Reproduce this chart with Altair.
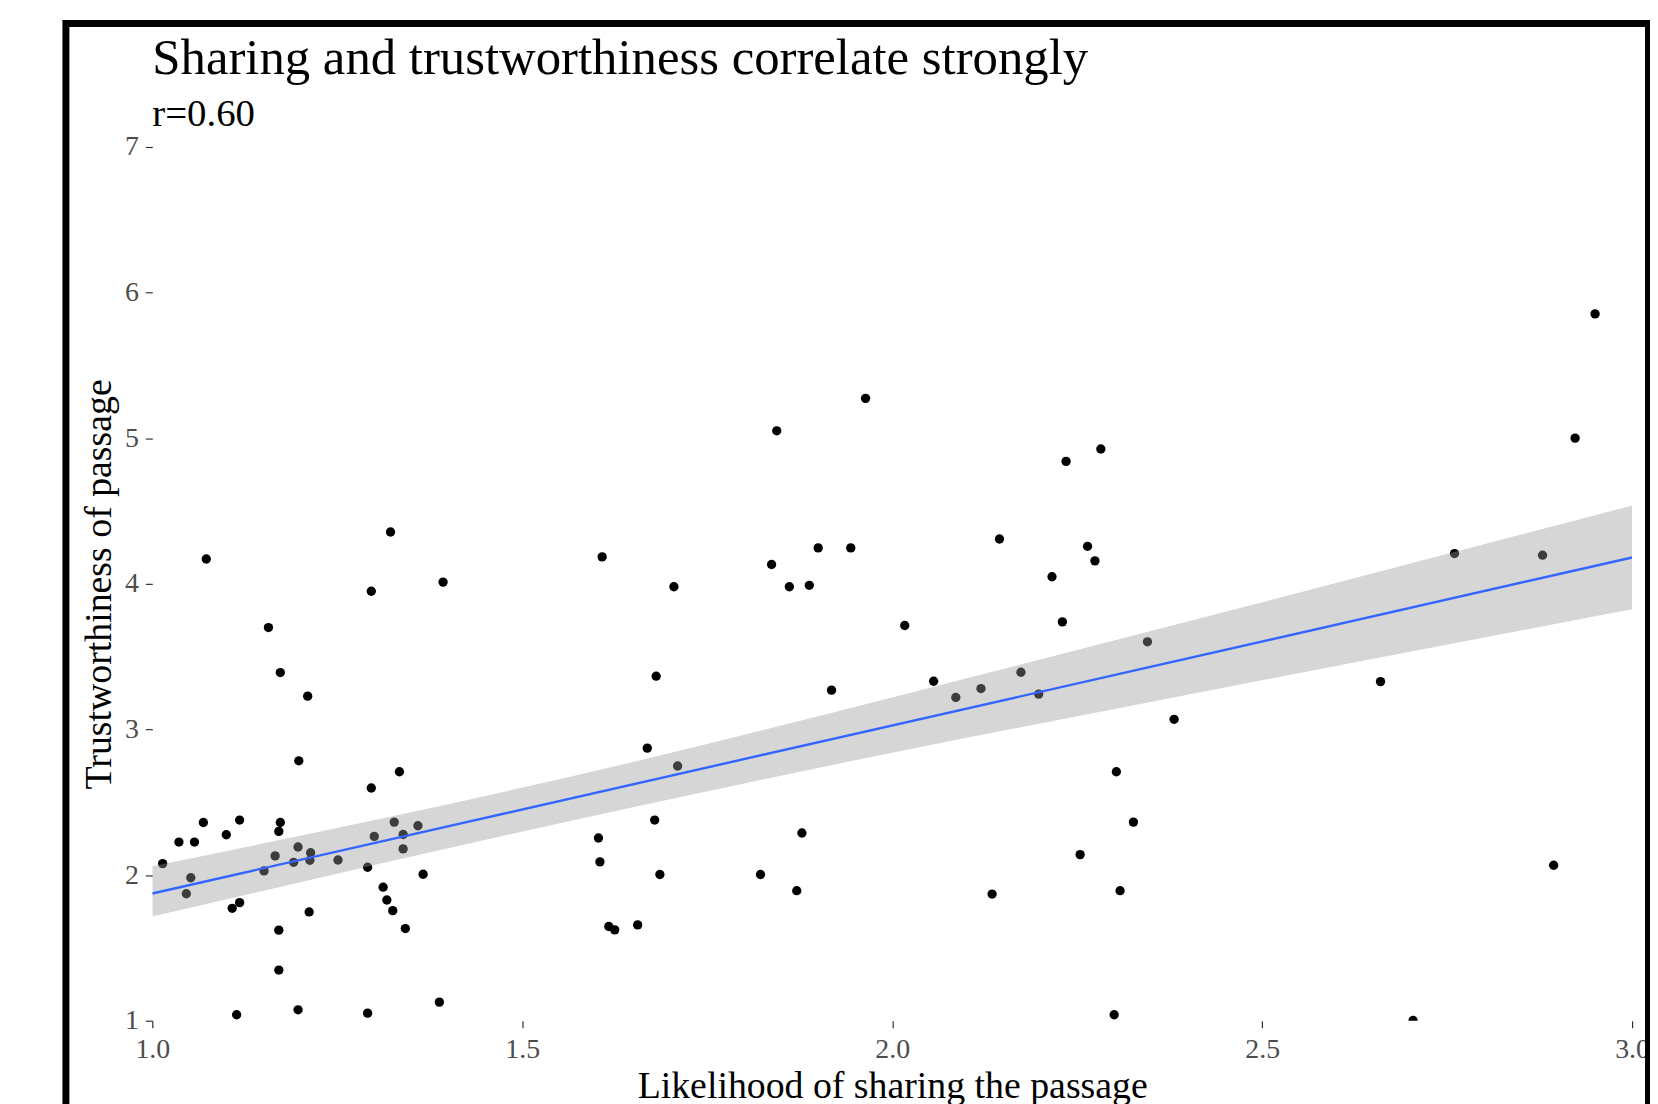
import altair as alt
import pandas as pd

# ---- data ----
share = [1.073, 1.322, 1.608, 1.296, 1.393, 1.964, 1.844, 2.282, 2.235, 2.145,
         2.264, 2.274, 2.216, 1.900, 1.944, 1.837, 1.705, 1.861, 1.888, 2.950,
         2.923, 2.760, 2.879, 1.157, 1.173, 1.210, 1.198, 1.334, 1.296, 1.069,
         1.118, 1.173, 1.171, 1.036, 1.057, 1.100, 1.014, 1.052, 1.046, 1.108,
         1.118, 1.151, 1.166, 1.191, 1.197, 1.214, 1.213, 1.251, 1.212, 1.171,
         1.171, 1.114, 1.197, 1.291, 1.388, 1.291, 1.300, 1.327, 1.339, 1.339,
         1.359, 1.366, 1.312, 1.317, 1.325, 1.342, 1.603, 1.605, 1.617, 1.625,
         2.017, 2.230, 1.681, 1.918, 2.056, 2.086, 2.120, 2.174, 2.198, 1.669,
         1.710, 2.303, 2.326, 1.679, 1.878, 2.254, 1.686, 1.822, 1.871, 2.135,
         2.308, 1.656, 2.300, 2.345, 2.660, 2.381, 2.894, 2.704]
trust = [4.171, 4.356, 4.185, 3.949, 4.012, 5.274, 5.051, 4.926, 4.841, 4.308,
         4.258, 4.158, 4.049, 4.247, 4.247, 4.133, 3.980, 3.980, 3.990, 5.854,
         5.001, 4.208, 4.197, 3.700, 3.391, 3.229, 2.785, 2.710, 2.598, 2.361,
         2.378, 2.361, 2.300, 2.227, 2.227, 2.277, 2.079, 1.982, 1.872, 1.772,
         1.811, 2.029, 2.132, 2.088, 2.193, 2.154, 2.102, 2.104, 1.747, 1.622,
         1.348, 1.041, 1.075, 1.052, 1.128, 2.054, 2.266, 2.364, 2.279, 2.180,
         2.339, 2.006, 1.917, 1.829, 1.756, 1.633, 2.255, 2.091, 1.647, 1.624,
         3.714, 3.739, 3.366, 3.270, 3.331, 3.220, 3.281, 3.393, 3.243, 2.872,
         2.749, 2.710, 2.364, 2.378, 2.289, 2.141, 2.004, 2.004, 1.893, 1.870,
         1.893, 1.658, 1.041, 3.602, 3.329, 3.070, 2.068, 1.002]

# fitted line and its 95% band
fit_x = [1.0, 3.0]
fit_y = [1.874, 4.181]
band_x = [1.0, 1.64, 2.0, 2.33, 3.0]
band_lo = [1.715, 2.455, 2.84, 3.17, 3.826]
band_hi = [2.06, 2.765, 3.22, 3.65, 4.538]

x_ticks = [1.0, 1.5, 2.0, 2.5, 3.0]
y_ticks = [1, 2, 3, 4, 5, 6, 7]
x_domain = [1.0, 3.0]
y_domain = [1, 7]
title_text = "Sharing and trustworthiness correlate strongly"
subtitle_text = "r=0.60"
x_title = "Likelihood of sharing the passage"
y_title = "Trustworthiness of passage"

FONT = "Liberation Serif"

df = pd.DataFrame({"share": share, "trust": trust})
fit_df = pd.DataFrame({"share": fit_x, "fit": fit_y})
band_df = pd.DataFrame({"share": band_x, "lo": band_lo, "hi": band_hi})

xscale = alt.Scale(domain=x_domain, nice=False, zero=False)
yscale = alt.Scale(domain=y_domain, nice=False, zero=False)

xaxis = alt.Axis(values=x_ticks, format=".1f", titleY=77, titleBaseline="alphabetic",
                 labelPadding=8, labelFlush=False, labelOverlap=False)
yaxis = alt.Axis(values=y_ticks, format="d", titleX=-42, titleBaseline="alphabetic",
                 titleAngle=270, labelPadding=7, labelFlush=False, labelOverlap=False)

points = alt.Chart(df).mark_circle(color="black", opacity=1, size=88, clip=True).encode(
    x=alt.X("share:Q", scale=xscale, axis=xaxis, title=x_title),
    y=alt.Y("trust:Q", scale=yscale, axis=yaxis, title=y_title),
)

ribbon = alt.Chart(band_df).mark_area(
    color="#999999", opacity=0.4, clip=True, interpolate="monotone"
).encode(
    x=alt.X("share:Q", scale=xscale, title=x_title),
    y=alt.Y("lo:Q", scale=yscale, title=y_title),
    y2="hi:Q",
)

line = alt.Chart(fit_df).mark_line(color="#3366FF", strokeWidth=2.4, clip=True).encode(
    x=alt.X("share:Q", scale=xscale, title=x_title),
    y=alt.Y("fit:Q", scale=yscale, title=y_title),
)

frame = alt.Chart(pd.DataFrame({"f": [0]})).mark_rect(
    stroke="black", strokeWidth=7, fillOpacity=0
).encode(
    x=alt.value(-86.8), x2=alt.value(1503.5),
    y=alt.value(-124), y2=alt.value(1000),
)

chart = alt.layer(points, ribbon, line, frame).properties(
    width=1487,
    height=878,
    padding={"left": 145, "top": 137, "right": 18, "bottom": 81},
    autosize=alt.AutoSizeParams(type="none"),
    background="white",
    title=alt.Title(
        text=title_text,
        subtitle=subtitle_text,
        anchor="start",
        frame="group",
        font=FONT,
        fontSize=51,
        fontWeight="normal",
        color="black",
        subtitleFont=FONT,
        subtitleFontSize=39,
        subtitleColor="black",
        subtitlePadding=10,
        offset=-115,
    ),
).configure_view(stroke=None).configure_axis(
    domain=False,
    grid=False,
    labelFont=FONT,
    labelFontSize=28,
    labelColor="#4d4d4d",
    tickColor="#333333",
    tickSize=7,
    tickWidth=1.2,
    titleFont=FONT,
    titleFontSize=38,
    titleFontWeight="normal",
    titleColor="black",
)

chart.save("out.html", embed_options={"renderer": "svg", "actions": False})
